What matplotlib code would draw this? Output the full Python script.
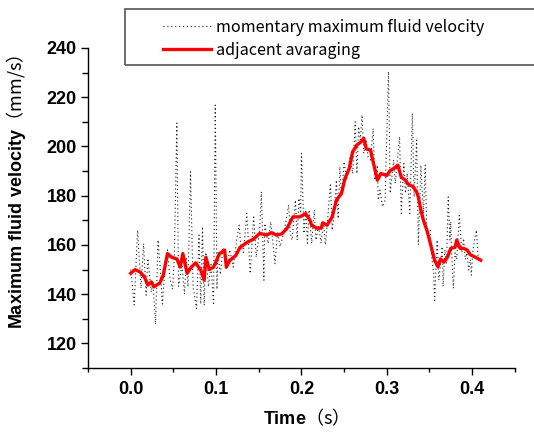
import matplotlib
matplotlib.use("Agg")
import matplotlib.pyplot as plt
from matplotlib.lines import Line2D
from matplotlib.patches import Rectangle
from matplotlib.ticker import MultipleLocator

plt.rcParams["mathtext.fontset"] = "custom"
plt.rcParams["mathtext.bf"] = "Liberation Sans:bold"
plt.rcParams["mathtext.rm"] = "Liberation Sans"

# momentary maximum fluid velocity (dotted trace)
raw_t = [0.000, 0.004, 0.008, 0.012, 0.015, 0.018, 0.020, 0.024, 0.026, 0.029,
         0.032, 0.035, 0.037, 0.040, 0.043, 0.046, 0.049, 0.051, 0.054, 0.056,
         0.060, 0.063, 0.065, 0.067, 0.070, 0.073, 0.077, 0.080, 0.082, 0.084,
         0.086, 0.088, 0.091, 0.094, 0.097, 0.099, 0.101, 0.102, 0.105, 0.108,
         0.112, 0.116, 0.120, 0.124, 0.127, 0.129, 0.132, 0.136, 0.140, 0.144,
         0.147, 0.151, 0.153, 0.156, 0.157, 0.161, 0.164, 0.169, 0.172, 0.175,
         0.180, 0.185, 0.187, 0.189, 0.193, 0.195, 0.197, 0.199, 0.200, 0.203,
         0.205, 0.207, 0.209, 0.212, 0.215, 0.217, 0.220, 0.223, 0.226, 0.228,
         0.230, 0.234, 0.236, 0.238, 0.241, 0.243, 0.245, 0.247, 0.250, 0.253,
         0.257, 0.260, 0.263, 0.265, 0.267, 0.269, 0.271, 0.273, 0.276, 0.278,
         0.281, 0.284, 0.286, 0.289, 0.290, 0.292, 0.295, 0.298, 0.302, 0.304,
         0.308, 0.310, 0.312, 0.315, 0.317, 0.320, 0.322, 0.324, 0.327, 0.330,
         0.332, 0.335, 0.337, 0.340, 0.341, 0.343, 0.345, 0.347, 0.351, 0.352,
         0.354, 0.355, 0.356, 0.359, 0.361, 0.365, 0.366, 0.368, 0.370, 0.372,
         0.374, 0.375, 0.376, 0.378, 0.380, 0.382, 0.385, 0.388, 0.390, 0.392,
         0.394, 0.396, 0.398, 0.399, 0.401, 0.405, 0.407, 0.409]
raw_v = [150.0, 135.6, 166.0, 142.4, 160.6, 139.6, 154.5, 140.9, 145.0, 127.8,
         162.0, 148.0, 136.0, 150.0, 158.0, 146.0, 142.0, 155.0, 209.5, 143.2,
         152.0, 140.0, 155.0, 143.0, 189.7, 143.0, 134.2, 164.0, 136.0, 167.4,
         135.5, 157.0, 143.0, 152.0, 135.5, 216.8, 142.0, 157.0, 148.0, 159.0,
         150.0, 158.0, 151.0, 162.0, 168.0, 159.5, 157.0, 172.8, 148.4, 172.0,
         155.0, 166.0, 181.6, 145.7, 168.7, 160.6, 169.4, 152.4, 165.4, 159.3,
         166.0, 176.2, 164.7, 162.0, 178.2, 162.0, 178.9, 172.8, 197.2, 164.7,
         174.2, 160.7, 174.2, 160.7, 174.2, 162.0, 168.1, 160.7, 169.4, 160.0,
         167.4, 185.0, 166.0, 171.4, 186.3, 170.7, 191.7, 179.5, 193.8, 186.3,
         195.8, 189.0, 210.0, 189.0, 208.0, 202.6, 212.8, 197.2, 202.6, 195.8,
         194.5, 207.3, 186.3, 192.4, 178.2, 182.3, 175.5, 178.2, 230.4, 181.0,
         194.5, 185.0, 193.1, 204.0, 172.8, 193.1, 181.0, 189.0, 172.8, 213.5,
         179.5, 202.6, 160.1, 192.4, 185.0, 172.8, 192.4, 164.7, 166.0, 158.0,
         151.0, 148.4, 136.7, 162.0, 145.7, 159.3, 143.1, 158.0, 152.4, 179.5,
         162.0, 169.4, 156.8, 142.4, 156.8, 154.1, 172.0, 156.8, 162.6, 154.1,
         156.8, 149.8, 154.1, 147.7, 158.0, 166.0, 155.4, 154.0]

# adjacent averaging (red trace)
avg_t = [0.000, 0.005, 0.011, 0.016, 0.020, 0.024, 0.027, 0.034, 0.038, 0.043,
         0.048, 0.054, 0.058, 0.061, 0.066, 0.071, 0.076, 0.082, 0.086, 0.088,
         0.092, 0.097, 0.104, 0.110, 0.112, 0.116, 0.123, 0.128, 0.136, 0.144,
         0.151, 0.159, 0.165, 0.171, 0.177, 0.183, 0.190, 0.198, 0.205, 0.210,
         0.212, 0.218, 0.223, 0.225, 0.230, 0.236, 0.241, 0.247, 0.251, 0.256,
         0.260, 0.265, 0.270, 0.273, 0.276, 0.281, 0.284, 0.289, 0.293, 0.300,
         0.304, 0.308, 0.313, 0.317, 0.322, 0.325, 0.331, 0.335, 0.337, 0.340,
         0.343, 0.347, 0.351, 0.356, 0.360, 0.363, 0.367, 0.371, 0.375, 0.380,
         0.382, 0.386, 0.390, 0.394, 0.398, 0.404, 0.410]
avg_v = [148.5, 150.0, 149.0, 147.0, 143.7, 145.0, 143.0, 144.5, 147.7, 156.5,
         155.0, 154.3, 151.0, 156.5, 148.5, 151.0, 152.7, 149.8, 145.7, 155.0,
         150.0, 151.0, 156.5, 157.9, 151.0, 153.7, 155.7, 159.0, 161.0, 162.4,
         164.7, 164.0, 165.0, 164.0, 164.5, 166.7, 171.4, 171.4, 172.7, 170.0,
         168.0, 166.8, 166.8, 169.0, 168.0, 171.4, 178.2, 181.0, 187.0, 191.0,
         197.8, 200.6, 201.9, 203.3, 199.0, 198.5, 193.8, 186.3, 189.0, 188.2,
         190.2, 191.0, 192.4, 187.5, 186.3, 184.7, 183.6, 181.5, 179.5, 174.1,
         170.0, 166.0, 160.7, 153.8, 151.1, 154.3, 153.0, 155.0, 158.6, 159.0,
         162.0, 158.6, 158.6, 158.0, 156.0, 155.0, 153.8]

fig = plt.figure(figsize=(5.34, 4.32), dpi=100)
ax = fig.add_axes([0.165, 0.148, 0.799, 0.741])

dots = (0, (1, 2.5))
ax.plot(raw_t, raw_v, color="#222222", lw=0.8, ls=dots)
ax.plot(avg_t, avg_v, color="#ff0000", lw=2.4)

ax.set_xlim(-0.05, 0.45)
ax.set_ylim(110, 240)
ax.xaxis.set_major_locator(MultipleLocator(0.1))
ax.xaxis.set_minor_locator(MultipleLocator(0.05))
ax.yaxis.set_major_locator(MultipleLocator(20))
ax.yaxis.set_minor_locator(MultipleLocator(10))
ax.xaxis.set_major_formatter(lambda v, p: f"{v:.1f}")

for s in ("top", "right"):
    ax.spines[s].set_visible(False)
for s in ("left", "bottom"):
    ax.spines[s].set_linewidth(1.0)

ax.tick_params(axis="both", which="both", direction="out", width=1.0)
ax.tick_params(axis="x", which="major", length=5, pad=4)
ax.tick_params(axis="x", which="minor", length=3)
ax.tick_params(axis="y", which="major", length=5, pad=3)
ax.tick_params(axis="y", which="minor", length=4)
for lab in ax.get_xticklabels() + ax.get_yticklabels():
    lab.set_fontfamily("Liberation Sans")
    lab.set_fontweight("bold")
    lab.set_fontsize(13)

cjk = ["Noto Sans CJK JP", "DejaVu Sans"]
ax.set_xlabel(r"$\mathbf{Time}$（s）", family=cjk, fontsize=13)
ax.set_ylabel(r"$\mathbf{Maximum\ fluid\ velocity}$（mm/s）", family=cjk, fontsize=13)
ax.xaxis.set_label_coords(0.50, -0.12)
ax.yaxis.set_label_coords(-0.14, 0.55)

# legend with a box that runs off the right edge
fig.patches.append(Rectangle((125 / 534, 1 - 65 / 432), 420 / 534, 56 / 432,
                             transform=fig.transFigure, fill=False,
                             edgecolor="#555555", lw=1.2))
handles = [Line2D([], [], color="#222222", lw=0.8, ls=dots),
           Line2D([], [], color="#ff0000", lw=2.4)]
labels = ["momentary maximum fluid velocity", "adjacent avaraging"]
fig.legend(handles, labels, loc="upper left",
           bbox_to_anchor=(163 / 534, 1 - 19 / 432), frameon=False,
           prop={"family": cjk, "size": 11.6}, handlelength=3.0,
           handletextpad=0.3, labelspacing=0.35, borderpad=0, borderaxespad=0)

fig.savefig("out.png", dpi=100)
